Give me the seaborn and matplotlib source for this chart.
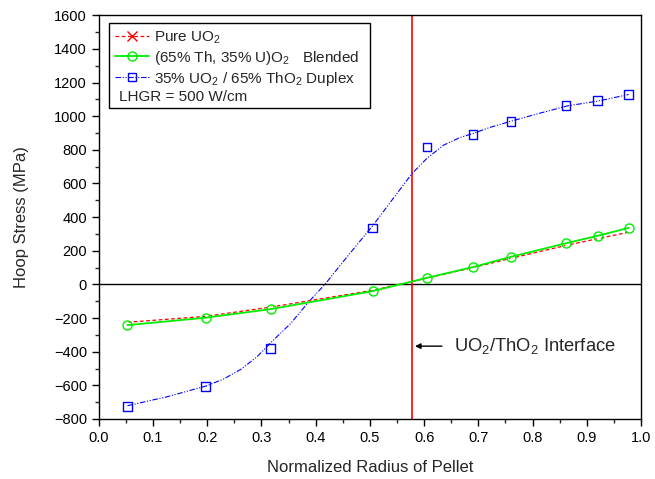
import numpy as np
import pandas as pd
import matplotlib
matplotlib.use('Agg')
import matplotlib.pyplot as plt
from matplotlib.lines import Line2D
from matplotlib.patches import Rectangle
from matplotlib.ticker import MultipleLocator
import seaborn as sns

# values
radius = [0.053, 0.197, 0.317, 0.505, 0.605, 0.690, 0.760, 0.862, 0.920, 0.977]
pure_uo2 = [-225, -190, -135, -35, 37, 100, 155, 232, 272, 310]
blended = [-242, -198, -147, -40, 39, 103, 164, 245, 289, 336]
duplex = [-725, -606, -380, 336, 818, 891, 968, 1063, 1093, 1129]

# smooth fitted curve through the duplex case
fit_r = [0.053, 0.126, 0.198, 0.230, 0.262, 0.292, 0.319, 0.354, 0.386, 0.417, 0.463,
         0.506, 0.543, 0.578, 0.605, 0.636, 0.666, 0.690, 0.720, 0.760, 0.810,
         0.864, 0.922, 0.977]
fit_s = [-721, -668, -604, -563, -505, -430, -341, -232, -108, 0, 184,
         352, 511, 660, 749, 828, 873, 897, 932, 970, 1015,
         1061, 1091, 1129]

interface_r = 0.578

sns.set_style('ticks')
plt.rcParams['font.family'] = ['Liberation Sans', 'DejaVu Sans']
plt.rcParams['mathtext.default'] = 'regular'

df = pd.DataFrame({'r': radius, 'pure': pure_uo2, 'blend': blended, 'duplex': duplex})
fit_df = pd.DataFrame({'r': fit_r, 's': fit_s})

fig = plt.figure(figsize=(6.55, 4.79), dpi=100)
ax = fig.add_axes([0.1507, 0.1253, 0.8280, 0.8428])

ax.axhline(0, color='black', lw=1.0, zorder=1)
ax.axvline(interface_r, color='red', lw=1.2, zorder=1)

sns.lineplot(data=df, x='r', y='pure', ax=ax, color='red', lw=0.9, linestyle=(0, (3, 2)),
             marker='x', markersize=7, markeredgewidth=0.8, sort=False, zorder=3)
sns.lineplot(data=df, x='r', y='blend', ax=ax, color='#00ee00', lw=1.3,
             marker='o', markersize=6.5, markerfacecolor='none', markeredgecolor='#00ee00',
             markeredgewidth=1.0, sort=False, zorder=4)
sns.lineplot(data=fit_df, x='r', y='s', ax=ax, color='blue', lw=0.8,
             linestyle=(0, (5, 1.5, 1, 1.5, 1, 1.5)), sort=False, zorder=2)
sns.scatterplot(data=df, x='r', y='duplex', ax=ax, marker='s', s=38,
                facecolor='none', edgecolor='blue', linewidth=1.0, zorder=5)

ax.set_xlim(0, 1.0)
ax.set_ylim(-800, 1600)
ax.xaxis.set_major_locator(MultipleLocator(0.1))
ax.xaxis.set_minor_locator(MultipleLocator(0.05))
ax.yaxis.set_major_locator(MultipleLocator(200))
ax.yaxis.set_minor_locator(MultipleLocator(100))
ax.set_xticklabels([f'{v:.1f}' for v in ax.get_xticks()])
ax.tick_params(which='major', direction='out', length=5, width=1, labelsize=10.5, colors='black')
ax.tick_params(which='minor', direction='out', length=3, width=1)
for s in ax.spines.values():
    s.set_visible(True)
    s.set_linewidth(1.0)
    s.set_color('black')

ax.set_xlabel('Normalized Radius of Pellet', fontsize=12, labelpad=11)
ax.set_ylabel('Hoop Stress (MPa)', fontsize=12, labelpad=18)

handles = [
    Line2D([], [], color='red', lw=0.9, linestyle=(0, (3, 2)), marker='x', markersize=7),
    Line2D([], [], color='#00ee00', lw=1.3, marker='o', markersize=6.5, markerfacecolor='none'),
    Line2D([], [], color='blue', lw=0.8, linestyle=(0, (5, 1.5, 1, 1.5, 1, 1.5)), marker='s',
           markersize=6, markerfacecolor='none'),
]
labels = ['Pure UO$_2$', '(65% Th, 35% U)O$_2$   Blended', '35% UO$_2$ / 65% ThO$_2$ Duplex']
ax.legend(handles, labels, loc='upper left', bbox_to_anchor=(0.025, 0.972), frameon=False,
          fontsize=11, handlelength=2.2, handletextpad=0.3, labelspacing=0.18, borderpad=0.2,
          borderaxespad=0)
ax.text(0.038, 0.797, 'LHGR = 500 W/cm', transform=ax.transAxes, fontsize=11, va='center', ha='left')
ax.add_patch(Rectangle((0.019, 0.770), 0.481, 0.212, transform=ax.transAxes, fill=False,
                       edgecolor='black', lw=1.0, zorder=6))

ax.annotate('', xy=(interface_r, -367), xytext=(0.638, -367),
            arrowprops=dict(arrowstyle='-|>', color='black', lw=1.0, mutation_scale=8))
ax.text(0.656, -367, 'UO$_2$/ThO$_2$ Interface', fontsize=13.2, va='center', ha='left')

fig.savefig('out.png', dpi=100)
